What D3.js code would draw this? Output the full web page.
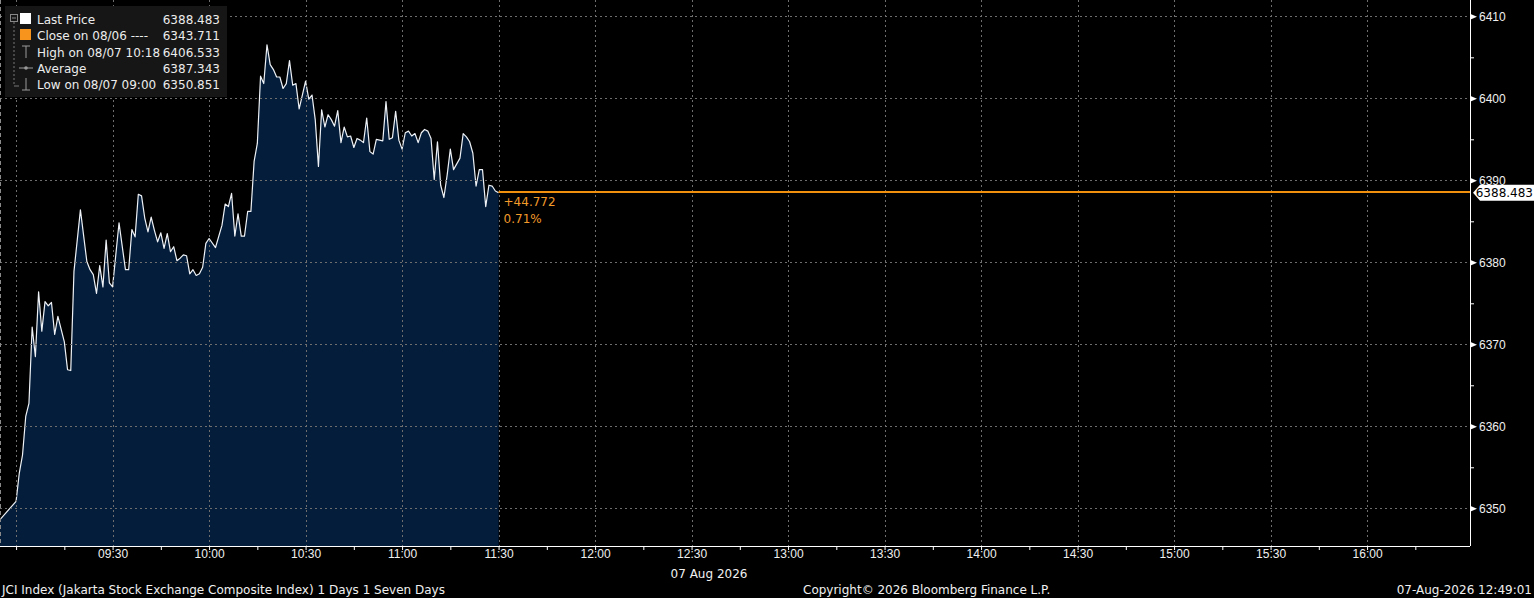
<!DOCTYPE html>
<html><head><meta charset="utf-8">
<script src="https://cdn.jsdelivr.net/npm/d3@7"></script>
<style>
html,body{margin:0;padding:0;background:#000;overflow:hidden}
svg{display:block;font-family:"DejaVu Sans",sans-serif}
</style></head><body>
<svg id="c" width="1534" height="598"></svg>
<script>
// ---- data ----
const times = ["08:44","09:00","09:01","09:02","09:03","09:04","09:05","09:06","09:07","09:08","09:09","09:10","09:11","09:12","09:13","09:15","09:16","09:17","09:18","09:20","09:22","09:23","09:24","09:25","09:26","09:27","09:28","09:29","09:30","09:32","09:34","09:35","09:36","09:37","09:38","09:39","09:40","09:41","09:42","09:43","09:44","09:45","09:46","09:47","09:48","09:49","09:50","09:51","09:52","09:53","09:54","09:55","09:56","09:57","09:58","09:59","10:00","10:02","10:04","10:05","10:06","10:07","10:08","10:09","10:10","10:11","10:12","10:13","10:14","10:15","10:16","10:17","10:18","10:19","10:20","10:21","10:22","10:23","10:24","10:25","10:26","10:27","10:28","10:29","10:30","10:31","10:32","10:33","10:34","10:35","10:36","10:37","10:38","10:39","10:40","10:41","10:42","10:43","10:44","10:45","10:46","10:47","10:48","10:49","10:50","10:51","10:52","10:54","10:55","10:56","10:57","10:58","10:59","11:00","11:01","11:02","11:03","11:04","11:05","11:06","11:07","11:08","11:09","11:10","11:11","11:12","11:13","11:14","11:15","11:16","11:17","11:18","11:19","11:20","11:21","11:22","11:23","11:24","11:25","11:26","11:27","11:28","11:29","11:30"];
const prices = [6343.711,6350.851,6354.3,6356.5,6361.2,6362.8,6372.1,6368.5,6376.4,6371.6,6375.2,6374.7,6375.1,6371.2,6373.4,6370.3,6366.9,6366.8,6378.9,6386.4,6380.1,6379.1,6378.5,6376.2,6379.6,6377.0,6382.7,6377.5,6377.0,6384.8,6379.1,6379.1,6384.0,6383.1,6388.3,6388.1,6385.4,6383.7,6385.5,6383.9,6382.5,6383.6,6381.7,6383.5,6381.3,6381.9,6380.2,6380.5,6380.9,6380.8,6378.6,6379.1,6378.4,6378.6,6379.4,6382.3,6382.9,6381.8,6384.5,6387.1,6386.8,6388.4,6383.2,6385.9,6383.2,6383.2,6386.2,6386.2,6392.3,6394.5,6402.7,6401.8,6406.533,6404.1,6403.5,6402.6,6402.6,6401.2,6401.8,6404.6,6401.6,6401.8,6398.7,6400.4,6402.1,6399.9,6400.4,6397.4,6391.7,6398.6,6396.5,6398.0,6397.4,6396.6,6398.5,6394.6,6396.5,6395.3,6395.4,6394.0,6395.1,6394.9,6394.6,6397.6,6393.5,6393.2,6395.0,6394.8,6399.6,6395.0,6395.2,6398.4,6394.9,6393.8,6395.8,6396.0,6395.4,6395.7,6394.6,6395.8,6396.2,6396.0,6395.1,6390.1,6394.7,6389.4,6387.9,6390.6,6393.8,6391.3,6392.0,6392.7,6395.7,6395.3,6394.7,6393.3,6389.3,6391.3,6391.3,6386.8,6389.4,6389.3,6388.7,6388.483];
const yTickValues = [6350,6360,6370,6380,6390,6400,6410];
const xLabelTimes = ["09:30","10:00","10:30","11:00","11:30","12:00","12:30","13:00","13:30","14:00","14:30","15:00","15:30","16:00"];
const legendLabels = ["Last Price","Close on 08/06 ----","High on 08/07 10:18","Average","Low on 08/07 09:00"];
const legendValues = ["6388.483","6343.711","6406.533","6387.343","6350.851"];
const lastPrice = 6388.483;
const changeText = ["+44.772","0.71%"];
const dateLabel = "07 Aug 2026";
const footerLeft = "JCI Index (Jakarta Stock Exchange Composite Index) 1 Days 1 Seven Days";
const footerMid = "Copyright\u00a9 2026 Bloomberg Finance L.P.";
const footerRight = "07-Aug-2026 12:49:01";

// ---- setup ----
const W = 1534, H = 598, PR = 1470, PB = 546;
const parse = d3.timeParse("%H:%M");
const data = times.map((t,i)=>({t:parse(t), v:prices[i]}));
const svg = d3.select("#c");
svg.append("rect").attr("width",W).attr("height",H).attr("fill","#000");

const x = d3.scaleTime().domain([parse("08:55"), parse("16:32")]).range([0, PR]);
const y = d3.scaleLinear().domain([6345.40, 6411.99]).range([PB, 0]);

svg.append("clipPath").attr("id","clip").append("rect").attr("x",0).attr("y",0).attr("width",PR).attr("height",PB);

const gridColor = "#6e6e6e";
const plot = svg.append("g").attr("clip-path","url(#clip)");
plot.append("path").datum(data)
  .attr("d", d3.area().x(d=>x(d.t)).y0(PB).y1(d=>y(d.v)))
  .attr("fill","#031d3b");

// grid
const grid = svg.append("g");
grid.selectAll(".hg").data(yTickValues).join("line")
  .attr("x1",0).attr("x2",PR).attr("y1",d=>Math.round(y(d))+0.5).attr("y2",d=>Math.round(y(d))+0.5)
  .attr("stroke",gridColor).attr("stroke-dasharray","2,3").attr("stroke-width",1);
const vGrid = d3.timeMinute.every(30).range(parse("09:00"), parse("16:01"));
grid.selectAll(".vg").data(vGrid).join("line")
  .attr("x1",d=>Math.round(x(d))+0.5).attr("x2",d=>Math.round(x(d))+0.5).attr("y1",0).attr("y2",PB)
  .attr("stroke",gridColor).attr("stroke-dasharray","2,3").attr("stroke-width",1);
grid.append("line").attr("x1",0.5).attr("x2",0.5).attr("y1",0).attr("y2",PB)
  .attr("stroke","#8a8a8a").attr("stroke-dasharray","4,3");

// line
plot.append("path").datum(data)
  .attr("d", d3.line().x(d=>x(d.t)).y(d=>y(d.v)))
  .attr("fill","none").attr("stroke","#eef2f6").attr("stroke-width",1.2).attr("stroke-linejoin","round");

// last price orange line
const lastT = data[data.length-1].t;
const orange = "#f0900c";
svg.append("rect").attr("x",x(lastT)).attr("width",PR-x(lastT)).attr("y",Math.floor(y(lastPrice))-1).attr("height",2)
  .attr("fill",orange);
svg.selectAll(".chg").data(changeText).join("text")
  .attr("x",x(lastT)+5).attr("y",(d,i)=>y(lastPrice)+13+i*17)
  .attr("fill","#f29a2a").attr("font-size",12).text(d=>d);

// x axis
const xTicks = d3.timeMinute.every(15).range(parse("09:00"), parse("16:16"));
const labelSet = new Set(xLabelTimes);
const fmt = d3.timeFormat("%H:%M");
const xa = svg.append("g").attr("transform",`translate(0,${PB})`)
  .call(d3.axisBottom(x).tickValues(xTicks).tickSize(4).tickSizeOuter(0)
    .tickFormat(d=>labelSet.has(fmt(d))?fmt(d):""));
xa.select(".domain").attr("stroke","#fff").attr("d",`M0,0.5H${PR}`);
xa.selectAll(".tick line").attr("stroke","#fff");
xa.selectAll(".tick text").attr("fill","#f0f0f0").attr("font-size",12).attr("font-family",null).attr("dy","0.55em").attr("y",5);
svg.append("text").attr("x",x(parse("12:30"))-21).attr("y",578).attr("fill","#f0f0f0").attr("font-size",12).text(dateLabel);

// y axis (right)
const ya = svg.append("g").attr("transform",`translate(${PR},0)`)
  .call(d3.axisRight(y).tickValues(d3.range(6350,6411,5)).tickSize(4).tickSizeOuter(0)
    .tickFormat(d=>yTickValues.includes(d)?d3.format("d")(d):""));
ya.select(".domain").attr("stroke","#fff").attr("d",`M0.5,0V${PB}`);
ya.selectAll(".tick line").attr("stroke","#fff");
ya.selectAll(".tick text").attr("fill","#f0f0f0").attr("font-size",12).attr("font-family",null).attr("x",9);
ya.selectAll(".tick").filter(d=>yTickValues.includes(d)).append("path")
  .attr("d","M0,-3L7,0L0,3Z").attr("fill","#fff");

// last price tag
const ly = y(lastPrice);
const tag = svg.append("g").attr("transform",`translate(${PR+3},${ly})`);
tag.append("path").attr("d","M0,0L7,-8H62V8H7Z").attr("fill","#fff");
tag.append("text").attr("x",60).attr("y",4.5).attr("text-anchor","end").attr("fill","#000").attr("font-size",12).text(lastPrice.toFixed(3));

// legend
const lg = svg.append("g");
lg.append("rect").attr("x",5).attr("y",6).attr("width",222).attr("height",91).attr("fill","#161616");
const rowY = [19,35,52,68,84];
lg.append("rect").attr("x",10.5).attr("y",14.5).attr("width",7).attr("height",7).attr("fill","none").attr("stroke","#888");
lg.append("line").attr("x1",12).attr("x2",16).attr("y1",18).attr("y2",18).attr("stroke","#888");
lg.append("line").attr("x1",14).attr("x2",14).attr("y1",22).attr("y2",86).attr("stroke","#777").attr("stroke-dasharray","2,2");
lg.append("line").attr("x1",14).attr("x2",19).attr("y1",86).attr("y2",86).attr("stroke","#777");
lg.append("rect").attr("x",20).attr("y",rowY[0]-6).attr("width",11).attr("height",11).attr("fill","#fff");
lg.append("rect").attr("x",20).attr("y",rowY[1]-6).attr("width",11).attr("height",11).attr("fill","#f7941d");
const ic = "#9a9a9a";
lg.append("path").attr("d",`M22,${rowY[2]-6}H30M26,${rowY[2]-6}V${rowY[2]+6}`).attr("stroke",ic).attr("fill","none");
lg.append("path").attr("d",`M19,${rowY[3]}H33`).attr("stroke",ic);
lg.append("circle").attr("cx",26).attr("cy",rowY[3]).attr("r",1.8).attr("fill",ic);
lg.append("path").attr("d",`M26,${rowY[4]-6}V${rowY[4]+6}M22,${rowY[4]+6}H30`).attr("stroke",ic).attr("fill","none");
lg.selectAll(".ll").data(legendLabels).join("text").attr("x",37).attr("y",(d,i)=>rowY[i]+4.5)
  .attr("fill","#ececec").attr("font-size",12).text(d=>d);
lg.selectAll(".lv").data(legendValues).join("text").attr("x",220).attr("y",(d,i)=>rowY[i]+4.5)
  .attr("text-anchor","end").attr("fill","#ececec").attr("font-size",12).text(d=>d);

// footer
svg.append("text").attr("x",2).attr("y",594).attr("fill","#f0f0f0").attr("font-size",12).text(footerLeft);
svg.append("text").attr("x",803).attr("y",594).attr("fill","#f0f0f0").attr("font-size",12).text(footerMid);
svg.append("text").attr("x",1532).attr("y",594).attr("text-anchor","end").attr("fill","#f0f0f0").attr("font-size",12).text(footerRight);
</script>
</body></html>
